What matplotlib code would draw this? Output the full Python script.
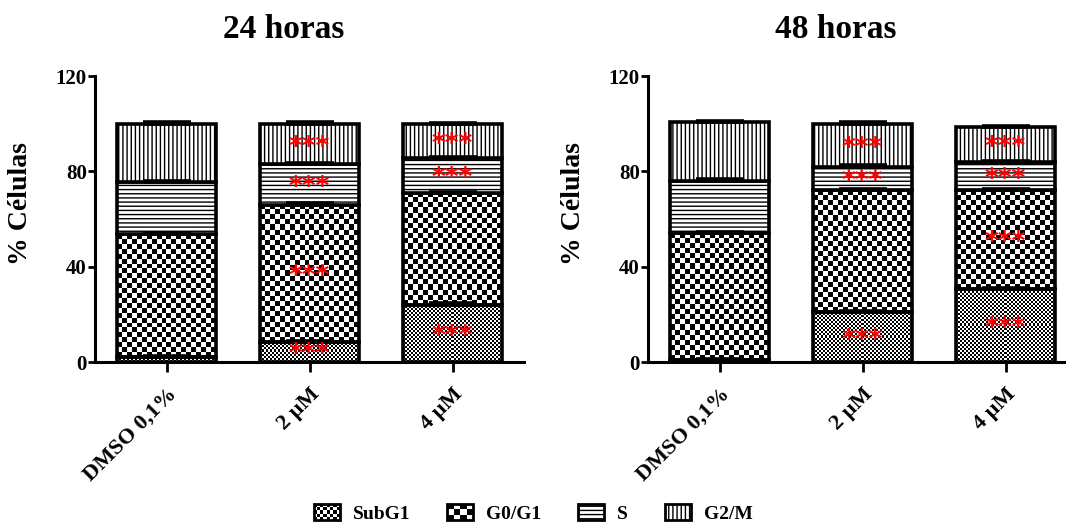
import numpy as np
import matplotlib
matplotlib.use("Agg")
import matplotlib.pyplot as plt
from matplotlib.patches import Rectangle, Patch
from matplotlib.legend_handler import HandlerBase

plt.rcParams['font.family'] = ['Liberation Serif', 'DejaVu Serif']
plt.rcParams['font.weight'] = 'bold'
plt.rcParams['hatch.linewidth'] = 1.0

grupos = ['DMSO 0,1%', '2 µM', '4 µM']
fases = ['SubG1', 'G0/G1', 'S', 'G2/M']
titulos = ['24 horas', '48 horas']

# % de celulas em cada fase (24 h)
subg1_24 = [2.0, 8.5, 24.0]
g0g1_24 = [51.5, 57.5, 47.0]
s_24 = [22.0, 17.0, 14.5]
g2m_24 = [24.5, 17.0, 14.5]
sd_24 = [[0.4, 0.5, 0.6], [0.6, 0.7, 0.5], [0.5, 0.5, 0.5], [0.6, 0.5, 0.4]]

# % de celulas em cada fase (48 h)
subg1_48 = [1.0, 21.0, 30.5]
g0g1_48 = [53.0, 51.0, 41.5]
s_48 = [22.0, 10.0, 12.0]
g2m_48 = [24.5, 18.0, 14.5]
sd_48 = [[0.4, 0.6, 0.5], [0.7, 0.6, 0.5], [0.6, 0.5, 0.5], [0.6, 0.5, 0.4]]

# onde vai o *** (1 = p < 0.001)
sig_24 = [[0, 1, 1], [0, 1, 0], [0, 1, 1], [0, 1, 1]]
sig_48 = [[0, 1, 1], [0, 0, 1], [0, 1, 1], [0, 1, 1]]

dados = [[subg1_24, g0g1_24, s_24, g2m_24], [subg1_48, g0g1_48, s_48, g2m_48]]
erros = [sd_24, sd_48]
sigs = [sig_24, sig_48]

# padrao de cada fase: tamanho da casa do xadrez (px) ou hatch de linhas
estilo = [('xadrez', 2), ('xadrez', 5), ('hatch', '----'), ('hatch', '||||')]


def xadrez(ax, patch, cel):                     # preenche a barra com um xadrez preto/branco
    x0, y0 = patch.get_x(), patch.get_y()
    x1, y1 = x0 + patch.get_width(), y0 + patch.get_height()
    (px0, py0), (px1, py1) = ax.transData.transform([(x0, y0), (x1, y1)])
    nx = max(1, int(round((px1 - px0) / cel)))
    ny = max(1, int(round((py1 - py0) / cel)))
    tab = np.indices((ny, nx)).sum(axis=0) % 2
    im = ax.imshow(tab, cmap='gray', vmin=0, vmax=1, extent=(x0, x1, y0, y1), origin='lower',
                   aspect='auto', interpolation='nearest', zorder=1)
    im.set_clip_path(patch)


class HandlerXadrez(HandlerBase):               # quadradinho da legenda com xadrez
    def __init__(self, nx, ny):
        super().__init__()
        self.nx, self.ny = nx, ny

    def create_artists(self, legend, orig_handle, xdescent, ydescent, width, height, fontsize, trans):
        arts = []
        dx, dy = width / self.nx, height / self.ny
        for i in range(self.nx):
            for j in range(self.ny):
                if (i + j) % 2 == 0:
                    arts.append(Rectangle((-xdescent + i * dx, -ydescent + j * dy), dx, dy,
                                          facecolor='black', edgecolor='none', transform=trans))
        arts.append(Rectangle((-xdescent, -ydescent), width, height, facecolor='none',
                              edgecolor='black', linewidth=2, transform=trans))
        return arts


fig = plt.figure(figsize=(10.66, 5.22), dpi=100)
posicoes = [[95 / 1066, 160 / 522, 429 / 1066, 286 / 522], [648 / 1066, 160 / 522, 429 / 1066, 286 / 522]]
tit_x = [284 / 1066, 836 / 1066]

x = np.arange(len(grupos))
larg = 0.69

for k in range(2):
    ax = fig.add_axes(posicoes[k])
    ax.set_xlim(-0.5, 2.5)
    ax.set_ylim(0, 120)
    base = np.zeros(len(grupos))
    for f in range(len(fases)):
        vals = np.array(dados[k][f])
        tipo, par = estilo[f]
        if tipo == 'xadrez':
            barras = ax.bar(x, vals, larg, bottom=base, facecolor='none', edgecolor='black',
                            linewidth=2.6, zorder=2)
            for p in barras.patches:
                xadrez(ax, p, par)
        else:
            barras = ax.bar(x, vals, larg, bottom=base, facecolor='white', edgecolor='black',
                            hatch=par, linewidth=2.6, zorder=2)
        topo = base + vals
        ax.errorbar(x, topo, yerr=[np.zeros(len(grupos)), erros[k][f]], fmt='none', ecolor='black',
                    elinewidth=2, capsize=17, capthick=2.6, zorder=3)
        for i in range(len(grupos)):
            if sigs[k][f][i]:
                ax.text(x[i], base[i] + vals[i] / 2 - 1.5, '***', color='red', ha='center', va='center',
                        fontsize=19, fontweight='bold', family='DejaVu Sans', zorder=4)
        base = topo
    ax.set_xlim(-0.5, 2.5)
    ax.set_ylim(0, 120)
    ax.set_yticks([0, 40, 80, 120])
    ax.set_xticks(x)
    ax.set_xticklabels(grupos, fontsize=16, rotation=45, ha='right', rotation_mode='anchor')
    ax.tick_params(axis='y', labelsize=15, length=5, width=2, pad=1)
    ax.tick_params(axis='x', length=7, width=2, pad=9)
    for s in ['top', 'right']:
        ax.spines[s].set_visible(False)
    for s in ['left', 'bottom']:
        ax.spines[s].set_linewidth(2.2)
    ax.set_ylabel('% Células', fontsize=20, fontweight='bold')
    ax.yaxis.set_label_coords(-0.145, 0.555)
    fig.text(tit_x[k], 1 - 30 / 522, titulos[k], ha='center', va='center', fontsize=24, fontweight='bold')

# legenda
h_sub = Patch(facecolor='white', edgecolor='black', label='SubG1')
h_g0 = Patch(facecolor='white', edgecolor='black', label='G0/G1')
h_s = Patch(facecolor='white', edgecolor='black', hatch='----', linewidth=2, label='S')
h_g2 = Patch(facecolor='white', edgecolor='black', hatch='||||', linewidth=2, label='G2/M')
fig.legend(handles=[h_sub, h_g0, h_s, h_g2], labels=fases, loc='lower center', ncol=4,
           bbox_to_anchor=(0.5, -0.035), frameon=False, fontsize=14, handlelength=1.35,
           handleheight=0.9, columnspacing=1.9, handletextpad=0.65,
           handler_map={h_sub: HandlerXadrez(8, 5), h_g0: HandlerXadrez(4, 3)})

fig.savefig('out.png', dpi=100)
